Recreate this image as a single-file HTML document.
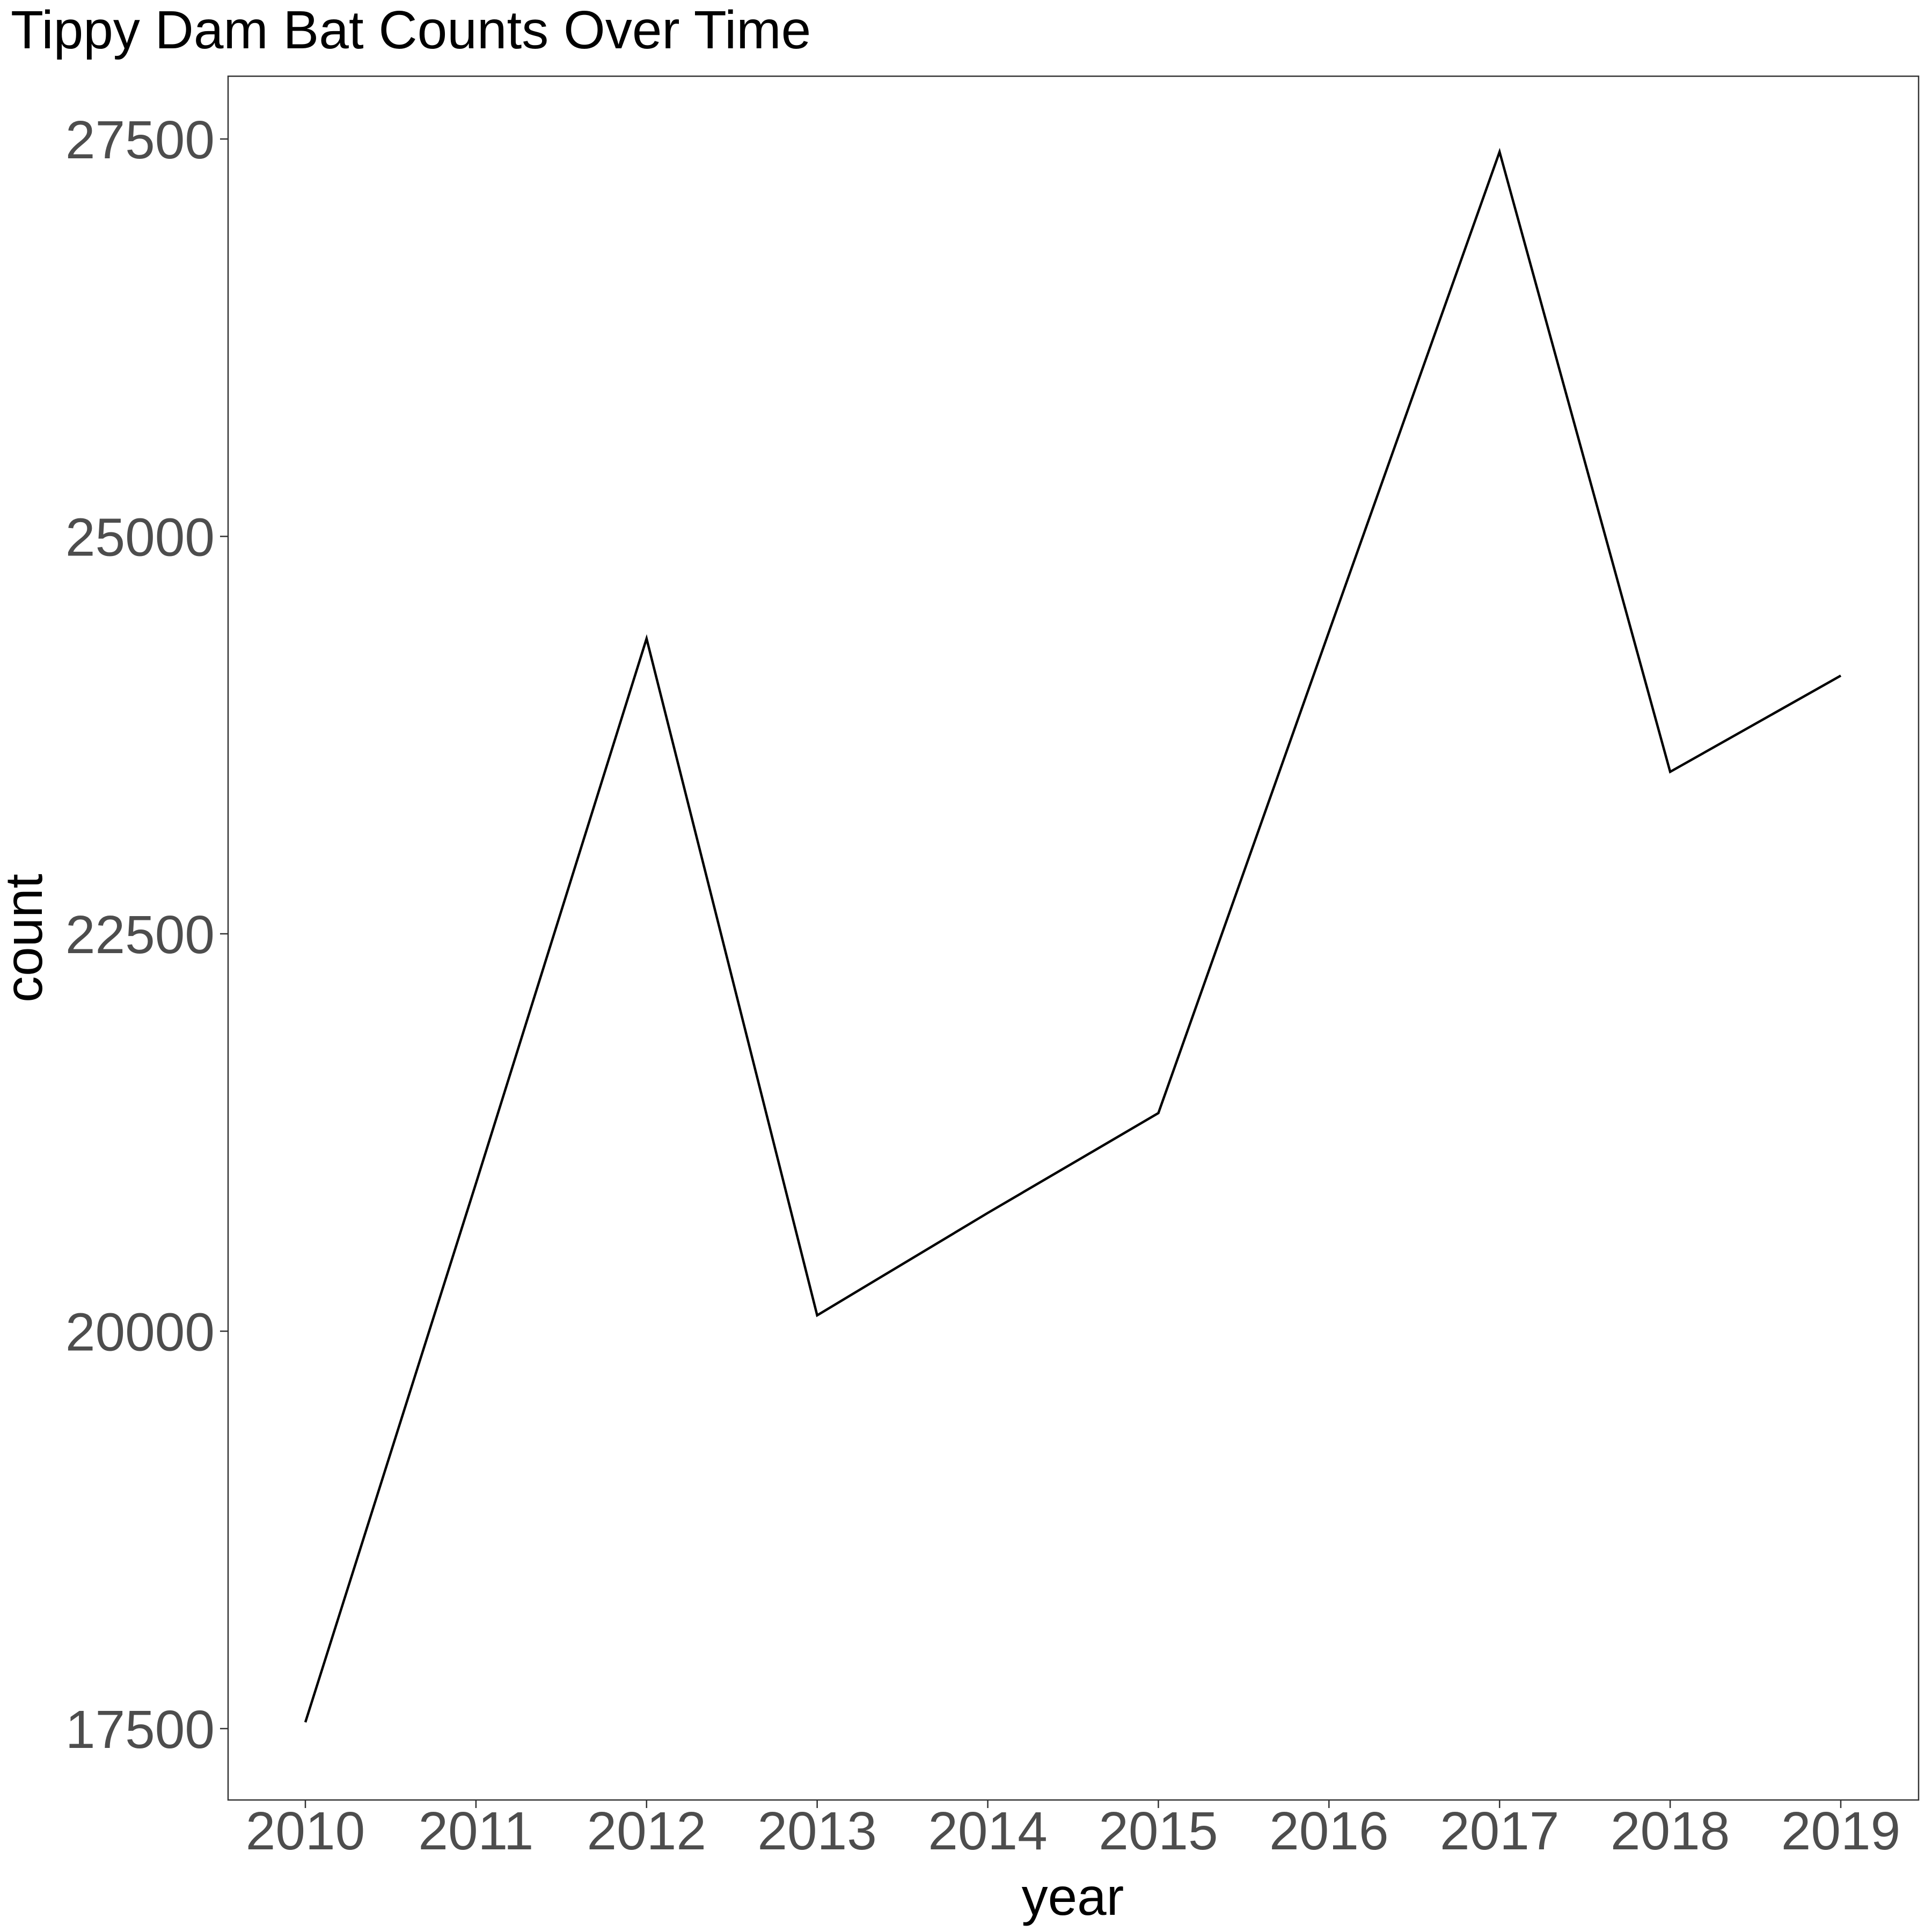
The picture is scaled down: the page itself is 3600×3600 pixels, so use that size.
<!DOCTYPE html>
<html><head><meta charset="utf-8"><style>
html,body{margin:0;padding:0;background:#fff}
svg{display:block;font-family:"Liberation Sans",Arial,sans-serif}
</style></head><body>
<svg id="chart" width="3600" height="3600" viewBox="0 0 3600 3600">
<rect width="3600" height="3600" fill="#fff"/>
<text x="20" y="90" font-size="100" fill="#000">Tippy Dam Bat Counts Over Time</text>
<rect x="425" y="142" width="3150" height="3212" fill="none" stroke="#333" stroke-width="2.5"/>
<g id="yaxis"></g>
<g id="xaxis"></g>
<g id="series"></g>
<text x="1999" y="3568" font-size="98" text-anchor="middle" fill="#000">year</text>
<text transform="translate(78,1748) rotate(-90)" font-size="98" text-anchor="middle" fill="#000">count</text>
</svg>
<script>
const years=[2010,2011,2012,2013,2014,2015,2016,2017,2018,2019];
const counts=[17540,20930,24357,20100,20744,21372,24400,27419,23519,24124];
const yTicks=[17500,20000,22500,25000,27500];
const NS="http://www.w3.org/2000/svg";
function xs(v){return 569+(v-2010)*(3430-569)/9;}
function ys(v){return 3221-(v-17500)*(3221-259)/10000;}
function mk(t,a,p){const e=document.createElementNS(NS,t);for(const k in a)e.setAttribute(k,a[k]);p.appendChild(e);return e;}
const ya=document.getElementById('yaxis'),xa=document.getElementById('xaxis'),se=document.getElementById('series');
yTicks.forEach(v=>{
 const l=mk('line',{x1:410,x2:425,y1:ys(v),y2:ys(v),stroke:'#333','stroke-width':2.5},ya);
 
 
 const t=mk('text',{x:400,y:ys(v)+36,'font-size':100,'text-anchor':'end',fill:'#4d4d4d'},ya);
 t.textContent=v;
 
 
});
years.forEach(v=>{
 const l=mk('line',{x1:xs(v),x2:xs(v),y1:3354,y2:3369,stroke:'#333','stroke-width':2.5},xa);
 
 
 const t=mk('text',{x:xs(v),y:3446,'font-size':100,'text-anchor':'middle',fill:'#4d4d4d'},xa);
 t.textContent=v;
 
 
});
const p=mk('polyline',{points:years.map((y,i)=>xs(y)+','+ys(counts[i])).join(' '),fill:'none',stroke:'#000','stroke-width':4.5},se);


</script>
</body></html>
